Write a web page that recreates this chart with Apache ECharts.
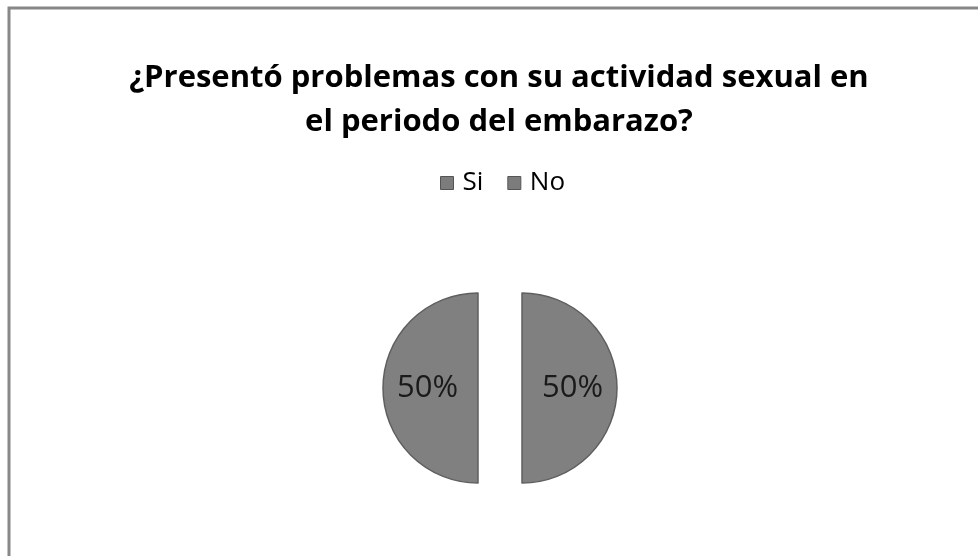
<!DOCTYPE html>
<html>
<head>
<meta charset="utf-8">
<script src="https://cdn.jsdelivr.net/npm/echarts@6/dist/echarts.min.js"></script>
<style>
  html, body { margin: 0; padding: 0; background: #fff; }
  #chart { width: 978px; height: 556px; }
</style>
</head>
<body>
<div id="chart"></div>
<script>
// Survey answers and their shares
const categories = ['Si', 'No'];
const values = [50, 50];
const titleLines = ['¿Presentó problemas con su actividad sexual en', 'el periodo del embarazo?'];

const font = '"Open Sans", Lato, sans-serif';

const chart = echarts.init(document.getElementById('chart'), null, { renderer: 'canvas' });
chart.setOption({
  backgroundColor: '#ffffff',
  animation: false,
  graphic: [{
    type: 'rect',
    shape: { x: 9, y: 8, width: 990, height: 600 },
    style: { fill: 'none', stroke: '#888888', lineWidth: 3 }
  }],
  title: {
    text: titleLines.join('\n'),
    left: 499,
    textAlign: 'center',
    top: 56,
    padding: 0,
    textStyle: { fontFamily: font, fontSize: 31, fontWeight: 'bold', color: '#000', lineHeight: 44 }
  },
  legend: {
    data: categories,
    top: 170,
    left: 440,
    padding: 0,
    itemWidth: 13,
    itemHeight: 13,
    itemGap: 24,
    icon: 'rect',
    textStyle: { fontFamily: font, fontSize: 26, color: '#000', lineHeight: 26, padding: [0, 0, 0, 4] },
    itemStyle: { color: '#7c7c7c', borderColor: '#555555', borderWidth: 1 }
  },
  series: [{
    type: 'pie',
    center: [500, 388],
    radius: 95,
    startAngle: 90,
    clockwise: true,
    selectedMode: 'multiple',
    selectedOffset: 22,
    label: {
      show: true,
      position: 'inside',
      formatter: '{d}%',
      fontFamily: font,
      fontSize: 31,
      color: '#1a1a1a'
    },
    labelLine: { show: false },
    emphasis: { disabled: true },
    itemStyle: { color: '#808080', borderColor: '#5f5f5f', borderWidth: 1.5 },
    data: categories.map((name, i) => ({ name, value: values[i], selected: true }))
  }]
});
</script>
</body>
</html>
